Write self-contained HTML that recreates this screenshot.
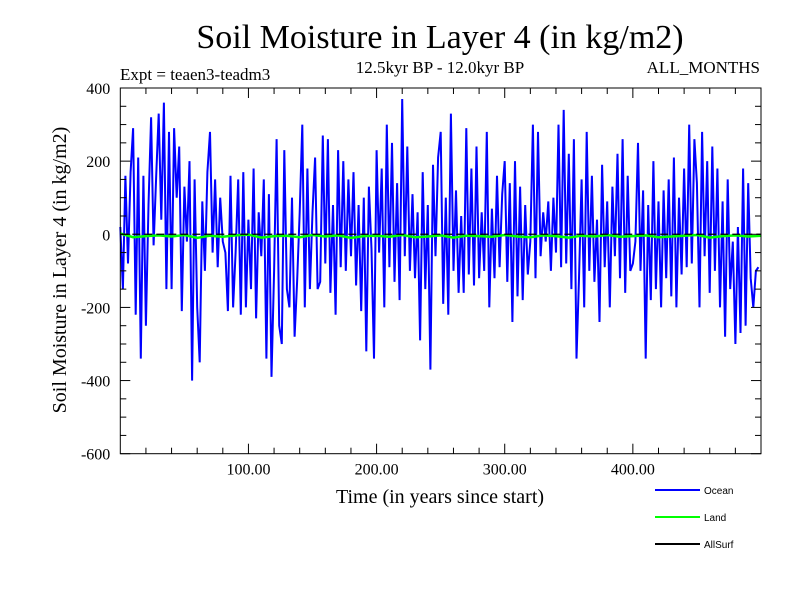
<!DOCTYPE html>
<html><head><meta charset="utf-8"><style>
body{margin:0;background:#fff;}
svg text{font-family:"Liberation Serif",serif;}
</style></head><body>
<svg id="chart" width="800" height="600" xmlns="http://www.w3.org/2000/svg">
<rect width="800" height="600" fill="#fff"/>
<text x="440" y="48" font-size="34" text-anchor="middle">Soil Moisture in Layer 4 (in kg/m2)</text>
<text x="120" y="80" font-size="17">Expt = teaen3-teadm3</text>
<text x="440" y="73" font-size="17" text-anchor="middle">12.5kyr BP - 12.0kyr BP</text>
<text x="760" y="73" font-size="17" text-anchor="end">ALL_MONTHS</text>
<text transform="translate(66,270) rotate(-90)" font-size="20" text-anchor="middle">Soil Moisture in Layer 4 (in kg/m2)</text>
<text x="440" y="503" font-size="20" text-anchor="middle">Time (in years since start)</text>
<g id="plot"></g>
<g font-family="Liberation Sans, sans-serif">
<line x1="655" y1="490" x2="700" y2="490" stroke="#0000ff" stroke-width="2"/>
<text x="704" y="494" font-size="10" style="font-family:'Liberation Sans',sans-serif">Ocean</text>
<line x1="655" y1="517" x2="700" y2="517" stroke="#00ff00" stroke-width="2"/>
<text x="704" y="521" font-size="10" style="font-family:'Liberation Sans',sans-serif">Land</text>
<line x1="655" y1="544" x2="700" y2="544" stroke="#000" stroke-width="2"/>
<text x="704" y="548" font-size="10" style="font-family:'Liberation Sans',sans-serif">AllSurf</text>
</g>
</svg>
<script>
const yTicks=[400,200,0,-200,-400,-600];
const xTicks=[100,200,300,400];
const xTickLabels=["100.00","200.00","300.00","400.00"];
const oceanStep=2;
const ocean=[20,-150,160,-80,170,290,-220,210,-340,160,-250,80,320,-30,160,330,40,360,-150,280,-150,290,100,240,-210,
130,-20,200,-400,150,-200,-350,90,-100,170,280,-50,150,-90,100,-20,-50,-210,160,-200,-50,150,-220,170,-200,
40,-150,180,-230,60,-60,150,-340,110,-390,-100,260,-250,-300,230,-150,-200,100,-280,-130,60,300,-200,180,-150,
60,210,-150,-130,270,-80,260,-160,80,-220,230,-90,200,-100,150,-60,170,-140,80,-210,100,-320,130,-40,-340,
230,-50,180,-200,300,-90,250,-130,140,-180,370,-60,240,-100,110,-120,60,-290,170,-150,80,-370,190,-60,210,
280,-190,100,-220,330,-100,120,-160,50,-160,290,-110,180,-140,240,-120,60,-100,280,-200,70,-120,160,-90,110,
200,-130,140,-240,200,-170,130,-180,80,-110,-20,300,-120,280,-60,60,-20,90,-100,100,-50,300,-90,340,-80,
220,-150,260,-340,-120,150,-200,280,-100,160,-130,40,-240,190,-90,90,-200,130,-60,220,-120,260,-160,160,-100,
-80,-20,250,-100,120,-340,80,-180,200,-150,90,-200,120,-120,150,-170,210,-200,100,-110,180,-90,300,-80,260,
140,-200,280,-60,200,-160,240,-100,180,-200,90,-280,150,-150,-20,-300,20,-270,180,-250,140,-120,-200,-100,-90];
const landStep=10;
const land=[2,-8,-5,-3,-6,-2,-10,-4,-7,-3,-1,-9,-5,-4,-8,-2,-6,-3,-10,-5,-4,-7,-2,-8,-6,-3,-9,-4,-5,-7,-2,-6,-8,-3,-5,-9,-4,-6,-2,-7,-5,-3,-8,-6,-4,-2,-9,-5,-3,-6,-4];
const allSurf=[0,0];
const X0=120.3,X1=761,Y0=88,Y1=453.7;
const xs=v=>X0+(v/500)*(X1-X0);
const ys=v=>Y0+(400-v)/1000*(Y1-Y0);
const NS="http://www.w3.org/2000/svg";
const g=document.getElementById('plot');
function mk(t,a){const e=document.createElementNS(NS,t);for(const k in a)e.setAttribute(k,a[k]);g.appendChild(e);return e;}
// ocean
let d=ocean.map((v,i)=>(i?'L':'M')+xs(i*oceanStep).toFixed(1)+','+ys(v).toFixed(1)).join('');
let p=mk('path',{d:d,fill:'none',stroke:'#0000ff','stroke-width':2});


d=land.map((v,i)=>(i?'L':'M')+xs(i*landStep).toFixed(1)+','+ys(v).toFixed(1)).join('');
p=mk('path',{d:d,fill:'none',stroke:'#00ff00','stroke-width':2.5});


p=mk('line',{x1:xs(0),x2:xs(500),y1:ys(allSurf[0]),y2:ys(allSurf[1]),stroke:'#000','stroke-width':1.2,'stroke-dasharray':'8,4'});


// frame
p=mk('rect',{x:X0,y:Y0,width:X1-X0,height:Y1-Y0,fill:'none',stroke:'#000','stroke-width':1});


// y minor ticks every 50
for(let v=-600;v<=400;v+=50){
 const maj=v%200===0, len=maj?10:6;
 mk('line',{x1:X0,x2:X0+len,y1:ys(v),y2:ys(v),stroke:'#000'});
 mk('line',{x1:X1,x2:X1-len,y1:ys(v),y2:ys(v),stroke:'#000'});
}
yTicks.forEach(v=>{const t=mk('text',{x:X0-10,y:ys(v)+6,'font-size':16,'text-anchor':'end'});t.textContent=v;

});
for(let v=20;v<500;v+=20){
 const maj=v%100===0,len=maj?10:6;
 mk('line',{x1:xs(v),x2:xs(v),y1:Y1,y2:Y1-len,stroke:'#000'});
 mk('line',{x1:xs(v),x2:xs(v),y1:Y0,y2:Y0+len,stroke:'#000'});
}
xTicks.forEach((v,i)=>{const t=mk('text',{x:xs(v),y:Y1+21,'font-size':16,'text-anchor':'middle'});t.textContent=xTickLabels[i];

});
</script>
</body></html>
